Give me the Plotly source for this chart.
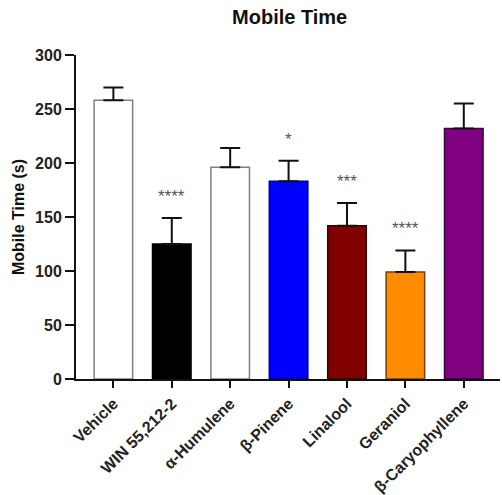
import plotly.graph_objects as go

# Mobile time per treatment group (mean and upper SEM, seconds)
treatments = ["Vehicle", "WIN 55,212-2", "α-Humulene", "β-Pinene",
              "Linalool", "Geraniol", "β-Caryophyllene"]
mean_time = [258, 125, 196, 183, 142, 99, 232]
sem_time = [12, 24, 18, 19, 21, 20, 23]
significance = ["", "****", "", "*", "***", "****", ""]
fill_colors = ["#ffffff", "#000000", "#ffffff", "#0000ff",
               "#800000", "#ff8c00", "#800080"]
edge_colors = ["#7f7f7f", "#000000", "#7f7f7f", "#00008b",
               "#3a0000", "#7a4000", "#3a003a"]
y_ticks = [0, 50, 100, 150, 200, 250, 300]

x_pos = list(range(len(treatments)))
FONT = "Arial, Liberation Sans, sans-serif"

fig = go.Figure()
fig.add_trace(go.Bar(
    x=x_pos,
    y=mean_time,
    width=0.66,
    marker=dict(color=fill_colors, line=dict(color=edge_colors, width=1.5)),
    error_y=dict(type="data", symmetric=False, array=sem_time,
                 arrayminus=[0] * len(sem_time),
                 color="#111111", thickness=2, width=10),
    showlegend=False,
))

# Significance stars above the error bars
for i, s in enumerate(significance):
    if s:
        fig.add_annotation(x=i, y=mean_time[i] + sem_time[i] + 20, text=s,
                           showarrow=False, yanchor="middle",
                           font=dict(family=FONT, size=17, color="#555555"))

tick_font = dict(family=FONT, size=16, color="#222222")

fig.update_layout(
    width=502, height=495,
    margin=dict(l=76, r=2, t=55, b=116),
    plot_bgcolor="white", paper_bgcolor="white",
    title=dict(text="<b>Mobile Time</b>", x=0.577, xanchor="center",
               y=0.965, yanchor="middle",
               font=dict(family=FONT, size=20, color="#111111")),
)
fig.update_xaxes(
    range=[-0.64, 6.62],
    tickmode="array", tickvals=x_pos,
    ticktext=[f"<b>{t}</b>" for t in treatments],
    tickangle=-45, tickfont=tick_font,
    showline=True, linecolor="#111111", linewidth=2,
    ticks="outside", ticklen=7, tickwidth=2, tickcolor="#111111",
    showgrid=False, zeroline=False, automargin=False,
)
fig.update_yaxes(
    range=[0, 300],
    tickmode="array", tickvals=y_ticks,
    ticktext=[f"<b>{v}</b>" for v in y_ticks],
    tickfont=tick_font,
    title=dict(text="<b>Mobile Time (s)</b>", standoff=6,
               font=dict(family=FONT, size=16, color="#111111")),
    showline=True, linecolor="#111111", linewidth=2,
    ticks="outside", ticklen=9, tickwidth=2, tickcolor="#111111",
    showgrid=False, zeroline=False, automargin=False,
)

fig.write_html("out.html")
